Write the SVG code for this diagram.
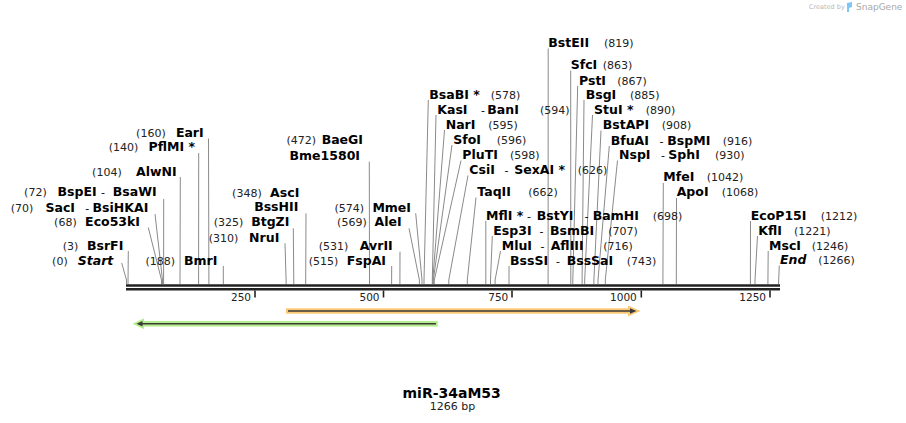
<svg xmlns="http://www.w3.org/2000/svg" width="906" height="423" viewBox="0 0 906 423">
<style>
text{font-family:"DejaVu Sans","Liberation Sans",sans-serif;fill:#000}
.n{font-size:12.5px;font-weight:bold}
.i{font-size:12.5px;font-weight:bold;font-style:italic}
.c{font-size:11px;fill:#222}
.d{font-size:11px}
.t{font-size:10.5px;fill:#222}
.e{text-anchor:end}
.m{text-anchor:middle}
.cut{fill:none;stroke:#8a8a8a;stroke-width:1}
.rl{stroke:#222;stroke-width:2.6}
.tk{stroke:#222;stroke-width:1.6}
</style>
<rect width="906" height="423" fill="#fff"/>
<g id="watermark">
<text x="809" y="9" style="font-size:6.5px;fill:#b8b8b8">Created by</text>
<path d="M847 3 L852 2 L852 7 L849 8 L849 12 L847 12 Z" fill="#7cc8f2"/>
<text x="856" y="10" style="font-size:9px;fill:#a8a8a8">SnapGene</text>
</g>
<g id="connectors">
<polyline class="cut" points="121.7,263 126.5,280 126.5,284"/>
<polyline class="cut" points="128.3,251 128,284"/>
<polyline class="cut" points="148.3,227.5 161.5,280 161.5,284"/>
<polyline class="cut" points="155,214 162.5,280 162.5,284"/>
<polyline class="cut" points="163.7,199 163.6,284"/>
<polyline class="cut" points="180.3,177 180,284"/>
<polyline class="cut" points="198.7,153 198.6,284"/>
<polyline class="cut" points="208.5,138.5 208.9,284"/>
<polyline class="cut" points="223.3,266 223.3,284"/>
<polyline class="cut" points="285,243.3 286.1,280 286.1,284"/>
<polyline class="cut" points="293.3,228.3 293.8,284"/>
<polyline class="cut" points="306,213.3 305.7,284"/>
<polyline class="cut" points="369.3,161.7 369.5,284"/>
<polyline class="cut" points="391.7,266 391.6,284"/>
<polyline class="cut" points="400,251.7 399.9,284"/>
<polyline class="cut" points="409,228.3 419.4,280 419.4,284"/>
<polyline class="cut" points="415.7,213.3 422,280 422,284"/>
<polyline class="cut" points="428.3,100 424,280 424,284"/>
<polyline class="cut" points="436,115 432.3,280 432.3,284"/>
<polyline class="cut" points="444.5,130 432.8,280 432.8,284"/>
<polyline class="cut" points="452,145 433.3,280 433.3,284"/>
<polyline class="cut" points="461,160.5 434.3,280 434.3,284"/>
<polyline class="cut" points="468,175.5 448.8,280 448.8,284"/>
<polyline class="cut" points="476,197.5 467.3,280 467.3,284"/>
<polyline class="cut" points="485.8,221 485.8,284"/>
<polyline class="cut" points="492.3,236 490.5,280 490.5,284"/>
<polyline class="cut" points="500.5,251 495.1,280 495.1,284"/>
<polyline class="cut" points="509,266 509,284"/>
<polyline class="cut" points="548.2,48.5 548.1,284"/>
<polyline class="cut" points="570.7,70.5 570.8,284"/>
<polyline class="cut" points="577.7,86 572.8,280 572.8,284"/>
<polyline class="cut" points="584,100 582.1,280 582.1,284"/>
<polyline class="cut" points="592.5,115 584.7,280 584.7,284"/>
<polyline class="cut" points="601,130.5 593.9,280 593.9,284"/>
<polyline class="cut" points="609.3,146 598,280 598,284"/>
<polyline class="cut" points="617.5,160.5 605.3,280 605.3,284"/>
<polyline class="cut" points="663.3,183 662.9,284"/>
<polyline class="cut" points="676.5,198 676.3,284"/>
<polyline class="cut" points="750.5,221 750.4,284"/>
<polyline class="cut" points="757.5,236 755,280 755,284"/>
<polyline class="cut" points="768.2,251 767.9,284"/>
<polyline class="cut" points="779.3,265.5 778.5,284"/>
</g>
<g id="ruler">
<line class="rl" x1="126" y1="285.5" x2="780" y2="285.5"/>
<line class="rl" x1="126" y1="289.2" x2="780" y2="289.2"/>
<line class="tk" x1="255" y1="290.5" x2="255" y2="297.5"/>
<line class="tk" x1="383.5" y1="290.5" x2="383.5" y2="297.5"/>
<line class="tk" x1="512" y1="290.5" x2="512" y2="297.5"/>
<line class="tk" x1="641.3" y1="290.5" x2="641.3" y2="297.5"/>
<line class="tk" x1="770" y1="290.5" x2="770" y2="297.5"/>
<text class="t e" x="251" y="300.7">250</text>
<text class="t e" x="379.5" y="300.7">500</text>
<text class="t e" x="508.3" y="300.7">750</text>
<text class="t e" x="636.8" y="300.7">1000</text>
<text class="t e" x="766" y="300.7">1250</text>
</g>
<g id="feature-orange">
<rect x="286" y="308.3" width="346" height="5.4" fill="#fcc874"/>
<polygon points="628,305.5 640.5,311 628,316.5" fill="#fcc874"/>
<line x1="288" y1="311" x2="632" y2="311" stroke="#3a3a3a" stroke-width="1.6"/>
<polygon points="630,308.3 636.5,311 630,313.7" fill="#3a3a3a"/>
</g>
<g id="feature-green">
<rect x="141" y="321" width="296.7" height="5.6" fill="#b6ee8e"/>
<polygon points="144,318.3 132.5,323.8 144,329.3" fill="#b6ee8e"/>
<line x1="140" y1="323.8" x2="436" y2="323.8" stroke="#3a3a3a" stroke-width="1.6"/>
<polygon points="142.5,321.1 136.5,323.8 142.5,326.5" fill="#3a3a3a"/>
</g>
<g id="site-start"><text class="c e" x="67.7" y="264.5">(0)</text><text class="i e" x="113.3" y="264.5">Start</text></g>
<g id="site-BsrFI"><text class="c e" x="78.3" y="249.5">(3)</text><text class="n e" x="123.3" y="249.5">BsrFI</text></g>
<g id="site-Eco53kI"><text class="c e" x="76.7" y="226">(68)</text><text class="n e" x="140" y="226">Eco53kI</text></g>
<g id="site-SacI"><text class="c e" x="33.3" y="211.5">(70)</text><text class="n e" x="75" y="211.5">SacI</text><text class="d m" x="87.3" y="211.5">-</text><text class="n e" x="148.3" y="211.5">BsiHKAI</text></g>
<g id="site-BspEI"><text class="c e" x="46.7" y="196">(72)</text><text class="n e" x="96.7" y="196">BspEI</text><text class="d m" x="103" y="196">-</text><text class="n e" x="156.7" y="196">BsaWI</text></g>
<g id="site-AlwNI"><text class="c e" x="121.7" y="175.5">(104)</text><text class="n e" x="176.7" y="175.5">AlwNI</text></g>
<g id="site-PflMI"><text class="c e" x="138.3" y="151">(140)</text><text class="n e" x="195" y="151">PflMI *</text></g>
<g id="site-EarI"><text class="c e" x="165.7" y="137">(160)</text><text class="n e" x="203.7" y="137">EarI</text></g>
<g id="site-BmrI"><text class="c e" x="175" y="264.5">(188)</text><text class="n e" x="217.3" y="264.5">BmrI</text></g>
<g id="site-NruI"><text class="c e" x="238.3" y="241.8">(310)</text><text class="n e" x="279.3" y="241.8">NruI</text></g>
<g id="site-BtgZI"><text class="c e" x="243.3" y="226">(325)</text><text class="n e" x="289.3" y="226">BtgZI</text></g>
<g id="site-AscI"><text class="c e" x="261.7" y="196.8">(348)</text><text class="n e" x="299.3" y="196.8">AscI</text><text class="n e" x="298.3" y="211.2">BssHII</text></g>
<g id="site-BaeGI"><text class="c e" x="316" y="143.5">(472)</text><text class="n e" x="363" y="143.5">BaeGI</text><text class="n e" x="360" y="159.5">Bme1580I</text></g>
<g id="site-FspAI"><text class="c e" x="338.3" y="265">(515)</text><text class="n e" x="386" y="265">FspAI</text></g>
<g id="site-AvrII"><text class="c e" x="348.3" y="249.5">(531)</text><text class="n e" x="392.7" y="249.5">AvrII</text></g>
<g id="site-AleI"><text class="c e" x="366.7" y="226">(569)</text><text class="n e" x="401.7" y="226">AleI</text></g>
<g id="site-MmeI"><text class="c e" x="364" y="211.8">(574)</text><text class="n e" x="411" y="211.8">MmeI</text></g>
<g id="site-BsaBI"><text class="n" x="429.3" y="98.5">BsaBI *</text><text class="c" x="490.7" y="98.5">(578)</text></g>
<g id="site-KasI"><text class="n" x="437.3" y="113.5">KasI</text><text class="d m" x="483" y="113.5">-</text><text class="n" x="487.3" y="113.5">BanI</text><text class="c" x="540" y="113.5">(594)</text></g>
<g id="site-NarI"><text class="n" x="445.7" y="128.5">NarI</text><text class="c" x="488.3" y="128.5">(595)</text></g>
<g id="site-SfoI"><text class="n" x="453.3" y="143.5">SfoI</text><text class="c" x="496.7" y="143.5">(596)</text></g>
<g id="site-PluTI"><text class="n" x="462.3" y="159">PluTI</text><text class="c" x="510" y="159">(598)</text></g>
<g id="site-CsiI"><text class="n" x="469.3" y="174">CsiI</text><text class="d m" x="506.5" y="174">-</text><text class="n" x="514.3" y="174">SexAI *</text><text class="c" x="577.7" y="174">(626)</text></g>
<g id="site-TaqII"><text class="n" x="477.3" y="196">TaqII</text><text class="c" x="528.3" y="196">(662)</text></g>
<g id="site-MflI"><text class="n" x="486" y="219.5">MflI *</text><text class="d m" x="529" y="219.5">-</text><text class="n" x="536.7" y="219.5">BstYI</text><text class="d m" x="586.5" y="219.5">-</text><text class="n" x="592.7" y="219.5">BamHI</text><text class="c" x="652.7" y="219.5">(698)</text></g>
<g id="site-Esp3I"><text class="n" x="493.3" y="234.5">Esp3I</text><text class="d m" x="541.5" y="234.5">-</text><text class="n" x="550" y="234.5">BsmBI</text><text class="c" x="608.3" y="234.5">(707)</text></g>
<g id="site-MluI"><text class="n" x="501.7" y="249.5">MluI</text><text class="d m" x="542.5" y="249.5">-</text><text class="n" x="550.7" y="249.5">AflIII</text><text class="c" x="603.3" y="249.5">(716)</text></g>
<g id="site-BssSI"><text class="n" x="510" y="264.5">BssSI</text><text class="d m" x="558" y="264.5">-</text><text class="n" x="566.7" y="264.5">BssSaI</text><text class="c" x="626.7" y="264.5">(743)</text></g>
<g id="site-BstEII"><text class="n" x="548.3" y="46.8">BstEII</text><text class="c" x="604" y="46.8">(819)</text></g>
<g id="site-SfcI"><text class="n" x="570.7" y="68.8">SfcI</text><text class="c" x="602.7" y="68.8">(863)</text></g>
<g id="site-PstI"><text class="n" x="579" y="84.5">PstI</text><text class="c" x="617.3" y="84.5">(867)</text></g>
<g id="site-BsgI"><text class="n" x="585.7" y="98.5">BsgI</text><text class="c" x="630" y="98.5">(885)</text></g>
<g id="site-StuI"><text class="n" x="594" y="113.5">StuI *</text><text class="c" x="645.7" y="113.5">(890)</text></g>
<g id="site-BstAPI"><text class="n" x="602.7" y="128.8">BstAPI</text><text class="c" x="661.7" y="128.8">(908)</text></g>
<g id="site-BfuAI"><text class="n" x="610.7" y="144.5">BfuAI</text><text class="d m" x="661.5" y="144.5">-</text><text class="n" x="667.3" y="144.5">BspMI</text><text class="c" x="722.7" y="144.5">(916)</text></g>
<g id="site-NspI"><text class="n" x="619" y="158.8">NspI</text><text class="d m" x="663" y="158.8">-</text><text class="n" x="668.3" y="158.8">SphI</text><text class="c" x="715" y="158.8">(930)</text></g>
<g id="site-MfeI"><text class="n" x="663.3" y="181.2">MfeI</text><text class="c" x="706.7" y="181.2">(1042)</text></g>
<g id="site-ApoI"><text class="n" x="676.7" y="196.2">ApoI</text><text class="c" x="721.7" y="196.2">(1068)</text></g>
<g id="site-EcoP15I"><text class="n" x="750.7" y="219.5">EcoP15I</text><text class="c" x="820.7" y="219.5">(1212)</text></g>
<g id="site-KflI"><text class="n" x="758.3" y="234.5">KflI</text><text class="c" x="794" y="234.5">(1221)</text></g>
<g id="site-MscI"><text class="n" x="769" y="249.5">MscI</text><text class="c" x="811.7" y="249.5">(1246)</text></g>
<g id="site-end"><text class="i" x="780" y="264">End</text><text class="c" x="818.3" y="264">(1266)</text></g>
<g id="title">
<text class="m" x="451.7" y="397.5" style="font-size:14px;font-weight:bold">miR-34aM53</text>
<text class="m" x="452.5" y="410" style="font-size:11px;fill:#222">1266 bp</text>
</g>
</svg>
